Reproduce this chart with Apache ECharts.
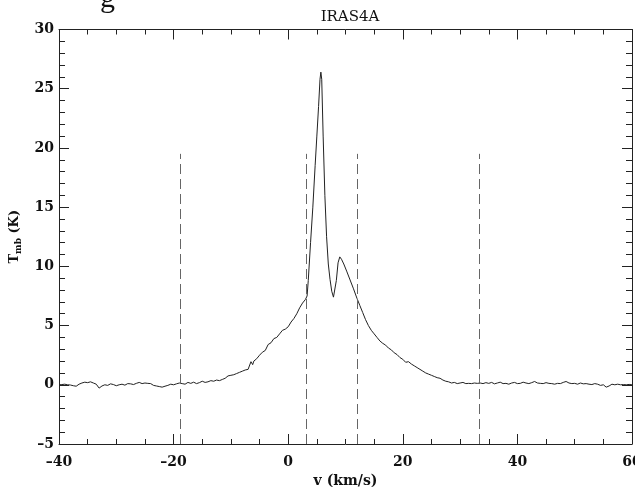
<!DOCTYPE html>
<html>
<head>
<meta charset="utf-8">
<script src="https://cdn.jsdelivr.net/npm/echarts@6/dist/echarts.min.js"></script>
<style>
html,body{margin:0;padding:0;background:#fff;overflow:hidden;width:635px;height:487px;}
#chart{width:635px;height:487px;position:absolute;left:0;top:0;}
</style>
</head>
<body>
<div id="chart"></div>
<script>
// Velocity (km/s)
var velocity = [
-40,-39.5,-39,-38.5,-38,-37.5,-37,-36.5,-36,-35.5,-35,-34.5,-34,-33.5,-33,-32.5,-32,-31.5,-31,-30.5,
-30,-29.5,-29,-28.5,-28,-27.5,-27,-26.5,-26,-25.5,-25,-24.5,-24,-23.5,-23,-22.5,-22,-21.5,-21,-20.5,
-20,-19.5,-19,-18.5,-18,-17.5,-17,-16.5,-16,-15.5,-15,-14.5,-14,-13.5,-13,-12.5,-12,-11.5,-11,-10.5,
-10,-9.5,-9,-8.5,-8,-7.5,-7,-6.5,-6.2,-6,-5.5,-5,-4.5,-4,-3.5,-3,-2.5,-2,-1.5,-1,-0.5,
0,0.5,1,1.5,2,2.5,3,3.3,3.5,3.9,4.3,4.7,5.0,5.3,5.55,5.7,5.85,6.1,6.4,6.7,7.0,7.3,7.6,7.9,
8.1,8.4,8.7,9.0,9.3,9.7,10.2,10.8,11.4,
12,12.5,13,13.5,14,14.5,15,15.5,16,16.5,17,17.5,18,18.5,19,19.5,20,20.5,21,21.5,22,22.5,23,23.5,
24,24.5,25,25.5,26,26.5,27,27.5,28,28.5,29,29.5,30,30.5,31,31.5,32,32.5,33,33.5,34,34.5,35,35.5,
36,36.5,37,37.5,38,38.5,39,39.5,40,40.5,41,41.5,42,42.5,43,43.5,44,44.5,45,45.5,46,46.5,47,47.5,
48,48.5,49,49.5,50,50.5,51,51.5,52,52.5,53,53.5,54,54.5,55,55.5,56,56.5,57,57.5,58,58.5,59,59.5,60
];
// Main-beam temperature (K)
var tmb = [
0.00,0.02,0.05,0.00,-0.02,-0.08,-0.12,0.05,0.15,0.22,0.18,0.25,0.15,0.05,-0.28,-0.10,0.00,-0.05,0.08,0.02,
-0.08,0.00,0.05,-0.03,0.10,0.08,0.02,0.12,0.20,0.10,0.15,0.12,0.10,-0.05,-0.10,-0.15,-0.20,-0.12,-0.05,0.05,
0.00,0.08,0.15,0.10,0.05,0.20,0.12,0.22,0.10,0.18,0.30,0.20,0.25,0.35,0.30,0.40,0.35,0.45,0.55,0.75,
0.80,0.85,0.95,1.05,1.15,1.25,1.30,1.95,1.70,2.00,2.20,2.50,2.75,2.90,3.40,3.55,3.90,4.00,4.30,4.60,4.70,
4.90,5.30,5.60,6.00,6.50,6.90,7.20,7.50,8.80,12.0,15.0,18.5,21.0,23.5,25.8,26.4,25.8,21.0,16.0,12.5,10.2,8.9,7.9,7.4,
7.5,8.8,10.3,10.8,10.6,10.2,9.6,8.85,8.1,
7.3,6.7,6.1,5.5,5.0,4.6,4.3,4.0,3.7,3.5,3.35,3.1,2.95,2.7,2.55,2.3,2.15,1.9,1.95,1.75,1.6,1.45,1.3,1.15,
1.0,0.9,0.8,0.7,0.6,0.55,0.4,0.3,0.25,0.15,0.2,0.1,0.15,0.2,0.1,0.12,0.1,0.15,0.12,0.15,0.1,0.18,0.12,0.2,
0.08,0.15,0.22,0.1,0.12,0.05,0.15,0.2,0.1,0.12,0.22,0.15,0.1,0.18,0.28,0.15,0.12,0.1,0.18,0.12,0.1,0.05,0.12,0.1,
0.2,0.28,0.15,0.1,0.12,0.05,0.15,0.08,0.1,0.05,0.02,0.1,0.05,-0.05,0.0,-0.2,-0.1,0.05,0.0,0.05,0.0,0.02,0.0,0.03,0.0
];
// Vertical dashed markers (km/s)
var dashVelocities = [-18.9, 3.2, 12.0, 33.4];
var dashBottom = -5;
var dashTop = 19.5;

var xTicks = { min: -40, max: 60, interval: 20 };
var yTicks = { min: -5, max: 30, interval: 5 };

var titleText = 'IRAS4A';
var xName = 'v (km/s)';

var FONT = 'DejaVu Serif';
var INK = '#222';

var spectrum = velocity.map(function (v, i) { return [v, tmb[i]]; });

var dashData = dashVelocities.map(function (v) {
  return [{ coord: [v, dashBottom] }, { coord: [v, dashTop] }];
});

function fmt(val) { return String(val).replace('-', '\u2013'); }

var chart = echarts.init(document.getElementById('chart'), null, { renderer: 'canvas', width: 635, height: 487 });

function xAxisCfg(pos, showLabel) {
  return {
    type: 'value', position: pos,
    min: xTicks.min, max: xTicks.max, interval: xTicks.interval,
    axisLine: { show: true, onZero: false, lineStyle: { color: INK, width: 1 } },
    axisTick: { show: true, inside: true, length: 10, lineStyle: { color: INK } },
    minorTick: { show: true, splitNumber: 4, length: 5, lineStyle: { color: INK } },
    splitLine: { show: false },
    axisLabel: { show: showLabel, margin: 11, color: '#111', fontFamily: FONT, fontSize: 14, fontWeight: 'bold', formatter: fmt,
                 hideOverlap: false },
    name: showLabel ? xName : '',
    nameLocation: 'middle', nameGap: 27,
    nameTextStyle: { color: '#111', fontFamily: FONT, fontSize: 14, fontWeight: 'bold' }
  };
}
function yAxisCfg(pos, showLabel) {
  return {
    type: 'value', position: pos,
    min: yTicks.min, max: yTicks.max, interval: yTicks.interval,
    axisLine: { show: true, onZero: false, lineStyle: { color: INK, width: 1 } },
    axisTick: { show: true, inside: true, length: 10, lineStyle: { color: INK } },
    minorTick: { show: true, splitNumber: 5, length: 6, lineStyle: { color: INK } },
    splitLine: { show: false },
    axisLabel: { show: showLabel, margin: 5, color: '#111', fontFamily: FONT, fontSize: 14, fontWeight: 'bold', formatter: fmt },
    name: showLabel ? '{t|T}{s|mb}{t| (K)}' : '',
    nameLocation: 'middle', nameGap: 25, nameRotate: 90,
    nameTextStyle: {
      color: '#111', fontFamily: FONT,
      rich: {
        t: { fontFamily: FONT, fontSize: 13, fontWeight: 'bold', color: '#111', lineHeight: 18, verticalAlign: 'middle' },
        s: { fontFamily: FONT, fontSize: 9, fontWeight: 'bold', color: '#111', lineHeight: 18, verticalAlign: 'bottom' }
      }
    }
  };
}

chart.setOption({
  animation: false,
  backgroundColor: '#fff',
  title: {
    text: titleText, left: 345, top: 5, textAlign: 'center',
    textStyle: { fontFamily: FONT, fontSize: 15, fontWeight: 'normal', color: '#111' }
  },
  graphic: [{
    type: 'text', left: 100, top: -16,
    style: { text: 'g', font: '30px "Liberation Serif"', fill: '#111' }
  }],
  grid: { left: 59, right: 3, top: 29.5, bottom: 43, containLabel: false, outerBoundsMode: 'none' },
  xAxis: [xAxisCfg('bottom', true), xAxisCfg('top', false)],
  yAxis: [yAxisCfg('left', true), yAxisCfg('right', false)],
  series: [{
    type: 'line',
    data: spectrum,
    xAxisIndex: 0, yAxisIndex: 0,
    showSymbol: false, symbol: 'none',
    lineStyle: { color: '#222', width: 1 },
    markLine: {
      silent: true, symbol: ['none', 'none'],
      label: { show: false },
      lineStyle: { color: '#666', width: 1, type: [10, 5] },
      data: dashData
    }
  }]
});
</script>
</body>
</html>
